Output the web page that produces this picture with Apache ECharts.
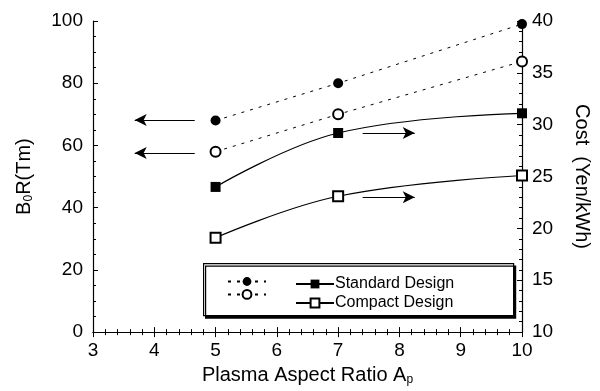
<!DOCTYPE html>
<html>
<head>
<meta charset="utf-8">
<script src="https://cdn.jsdelivr.net/npm/echarts@6/dist/echarts.min.js"></script>
<style>
  html, body { margin: 0; padding: 0; background: #fff; }
  #chart { width: 600px; height: 391px; }
</style>
</head>
<body>
<div id="chart"></div>
<script>
// plasma aspect ratio
var aspectRatio = [5, 7, 10];
// B0R (Tm), left axis
var fieldStandard = [68, 80, 99];
var fieldCompact = [58, 70, 87];
// cost (Yen/kWh), right axis
var costStandard = [24.0, 29.2, 31.1];
var costCompact = [19.1, 23.1, 25.1];
// arrows [xFrom, y, xTo]
var leftArrows = [[4.66, 68.2, 3.68], [4.66, 57.6, 3.68]];
var rightArrows = [[7.4, 29.2, 8.25], [7.4, 23.0, 8.25]];

var font = 'Liberation Sans, Arial, Helvetica, sans-serif';

function pairs(xs, ys) {
  var out = [];
  for (var i = 0; i < xs.length; i++) out.push([xs[i], ys[i]]);
  return out;
}

function arrowLines(list) {
  return list.map(function (a) {
    return [{ coord: [a[0], a[1]] }, { coord: [a[2], a[1]] }];
  });
}

var chart = echarts.init(document.getElementById('chart'), null, { renderer: 'canvas' });

var tickStyle = { lineStyle: { color: '#000', width: 1 } };

var option = {
  backgroundColor: '#fff',
  animation: false,
  textStyle: { fontFamily: font, color: '#000' },
  grid: { left: 93, right: 77, top: 21, bottom: 49 },
  xAxis: [{
    type: 'value', min: 3, max: 10, interval: 1,
    axisLine: { show: true, onZero: false, lineStyle: { color: '#000', width: 1.2 } },
    axisTick: { inside: true, length: 5, lineStyle: { color: '#000' } },
    minorTick: { show: true, splitNumber: 5, length: 3, lineStyle: { color: '#000' } },
    splitLine: { show: false },
    axisLabel: { fontSize: 19, color: '#000', margin: 9, fontFamily: font },
    name: '{n|Plasma Aspect Ratio A}{s|p}',
    nameLocation: 'middle', nameGap: 30,
    nameTextStyle: {
      rich: {
        n: { fontSize: 20, fontFamily: font, color: '#000' },
        s: { fontSize: 12, fontFamily: font, color: '#000', padding: [10, 0, 0, 0] }
      }
    }
  }, {
    type: 'value', min: 3, max: 10, interval: 1, position: 'top',
    axisLine: { show: true, lineStyle: { color: '#000', width: 1.2 } },
    axisTick: { inside: true, length: 5, lineStyle: { color: '#000' } },
    minorTick: { show: true, splitNumber: 5, length: 3, lineStyle: { color: '#000' } },
    splitLine: { show: false },
    axisLabel: { show: false }
  }],
  yAxis: [{
    type: 'value', min: 0, max: 100, interval: 20, position: 'left',
    axisLine: { show: true, lineStyle: { color: '#000', width: 1.2 } },
    axisTick: { show: true, inside: true, length: 5, lineStyle: { color: '#000' } },
    minorTick: { show: true, splitNumber: 4, length: 3, lineStyle: { color: '#000' } },
    splitLine: { show: false },
    axisLabel: { fontSize: 19, color: '#000', margin: 10, fontFamily: font },
    name: '{n|B}{s|0}{n|R(Tm)}',
    nameLocation: 'middle', nameGap: 58, nameRotate: 90,
    nameTextStyle: {
      rich: {
        n: { fontSize: 20, fontFamily: font, color: '#000' },
        s: { fontSize: 12, fontFamily: font, color: '#000', padding: [10, 0, 0, 0] }
      }
    }
  }, {
    type: 'value', min: 10, max: 40, interval: 5, position: 'right',
    axisLine: { show: true, lineStyle: { color: '#000', width: 1.2 } },
    axisTick: { show: true, inside: true, length: 5, lineStyle: { color: '#000' } },
    minorTick: { show: true, splitNumber: 5, length: 3, lineStyle: { color: '#000' } },
    splitLine: { show: false },
    axisLabel: { fontSize: 19, color: '#000', margin: 10, fontFamily: font },
    name: 'Cost  (Yen/kWh)',
    nameLocation: 'middle', nameGap: 50, nameRotate: -90,
    nameTextStyle: { fontSize: 20, fontFamily: font, color: '#000' }
  }],
  legend: [{
    left: 222, top: 271, orient: 'vertical', itemGap: 3,
    itemWidth: 38, itemHeight: 11,
    data: ['B0R Standard', 'B0R Compact'],
    formatter: function () { return ''; },
    selectedMode: false,
    textStyle: { fontSize: 14 }
  }, {
    left: 290, top: 271, orient: 'vertical', itemGap: 3,
    itemWidth: 38, itemHeight: 11,
    data: ['Standard Design', 'Compact Design'],
    selectedMode: false,
    textStyle: { fontSize: 16, fontFamily: font, color: '#000', padding: [0, 0, 0, -4] }
  }],
  graphic: [{
    type: 'rect', left: 203, top: 263, z: 0,
    shape: { width: 310, height: 52 },
    style: { fill: '#fff', stroke: '#000', lineWidth: 1.2, shadowColor: '#000', shadowOffsetX: 2, shadowOffsetY: 2.5, shadowBlur: 0 }
  }],
  series: [{
    name: 'B0R Standard', type: 'line', xAxisIndex: 0, yAxisIndex: 0,
    data: pairs(aspectRatio, fieldStandard),
    symbol: 'circle', symbolSize: 10,
    itemStyle: { color: '#000' },
    lineStyle: { color: '#000', width: 1, type: [3, 6] },
    markLine: {
      silent: true, symbol: ['none', 'arrow'], symbolSize: [9, 12],
      label: { show: false },
      lineStyle: { color: '#000', width: 1.2, type: 'solid' },
      data: arrowLines(leftArrows)
    }
  }, {
    name: 'B0R Compact', type: 'line', xAxisIndex: 0, yAxisIndex: 0,
    data: pairs(aspectRatio, fieldCompact),
    symbol: 'emptyCircle', symbolSize: 10,
    itemStyle: { color: '#000', borderWidth: 1.2 },
    lineStyle: { color: '#000', width: 1, type: [3, 6] }
  }, {
    name: 'Standard Design', type: 'line', xAxisIndex: 0, yAxisIndex: 1,
    data: pairs(aspectRatio, costStandard),
    smooth: 0.4,
    symbol: 'rect', symbolSize: 10,
    itemStyle: { color: '#000' },
    lineStyle: { color: '#000', width: 1.2 },
    markLine: {
      silent: true, symbol: ['none', 'arrow'], symbolSize: [9, 12],
      label: { show: false },
      lineStyle: { color: '#000', width: 1.2, type: 'solid' },
      data: arrowLines(rightArrows)
    }
  }, {
    name: 'Compact Design', type: 'line', xAxisIndex: 0, yAxisIndex: 1,
    data: pairs(aspectRatio, costCompact),
    smooth: 0.4,
    symbol: 'emptyRect', symbolSize: 10,
    itemStyle: { color: '#000', borderWidth: 1.2 },
    lineStyle: { color: '#000', width: 1.2 }
  }]
};

chart.setOption(option);
</script>
</body>
</html>
